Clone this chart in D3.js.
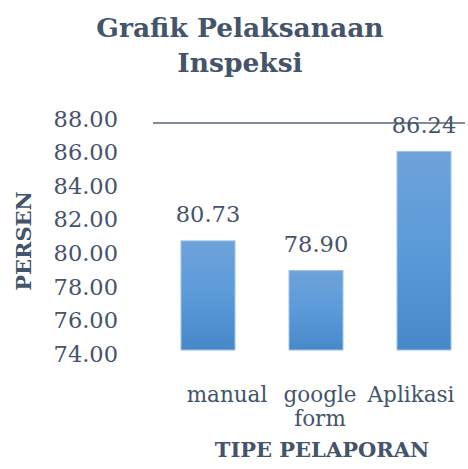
<!DOCTYPE html>
<html>
<head>
<meta charset="utf-8">
<script src="https://cdn.jsdelivr.net/npm/d3@7"></script>
<style>
  body { margin: 0; background: #fff; }
  text { font-family: "DejaVu Serif", serif; fill: #44546a; }
</style>
</head>
<body>
<div id="chart"></div>
<script>
// data
const categories = ["manual", "google form", "Aplikasi"];
const values = [80.73, 78.90, 86.24];
const yTicks = [74, 76, 78, 80, 82, 84, 86, 88];
const titleLines = ["Grafik Pelaksanaan", "Inspeksi"];
const yTitle = "PERSEN";
const xTitle = "TIPE PELAPORAN";

const width = 468, height = 469;
const svg = d3.select("#chart").append("svg")
  .attr("width", width).attr("height", height);

const defs = svg.append("defs");
const grad = defs.append("linearGradient")
  .attr("id", "barGrad").attr("x1", 0).attr("y1", 0).attr("x2", 0).attr("y2", 1);
grad.append("stop").attr("offset", "0%").attr("stop-color", "#6ea3da");
grad.append("stop").attr("offset", "50%").attr("stop-color", "#5b9ad9");
grad.append("stop").attr("offset", "100%").attr("stop-color", "#4788c9");

const yScale = d3.scaleLinear().domain([74, 88]).range([350, 123]);
// tick labels sit a touch wider than the plot, like the original
const yLabelScale = d3.scaleLinear().domain([74, 88]).range([354, 119]);

const xScale = d3.scaleBand()
  .domain(categories)
  .range([154, 478])
  .paddingInner(0.5)
  .paddingOuter(0.25);

// title
svg.append("g")
  .selectAll("text")
  .data(titleLines)
  .join("text")
  .attr("x", 240)
  .attr("y", (d, i) => 37 + i * 35)
  .attr("text-anchor", "middle")
  .style("font-weight", "bold")
  .style("font-size", "26.5px")
  .text(d => d);

// top gridline (88)
svg.append("line")
  .attr("x1", 153).attr("x2", 465)
  .attr("y1", yScale(88)).attr("y2", yScale(88))
  .attr("stroke", "#596477").attr("stroke-width", 1.5);

// y axis labels
const yAxis = d3.axisLeft(yLabelScale)
  .tickValues(yTicks)
  .tickFormat(d3.format(".2f"))
  .tickSize(0).tickPadding(0);

svg.append("g")
  .attr("transform", "translate(118,0)")
  .call(yAxis)
  .call(g => g.select(".domain").remove())
  .selectAll("text")
  .style("font-family", "DejaVu Serif, serif")
  .style("font-size", "22.5px")
  .attr("fill", "#44546a");

// bars
svg.append("g")
  .selectAll("rect")
  .data(values)
  .join("rect")
  .attr("x", (d, i) => xScale(categories[i]))
  .attr("y", d => yScale(d))
  .attr("width", xScale.bandwidth())
  .attr("height", d => yScale(74) - yScale(d))
  .attr("fill", "url(#barGrad)")
  .attr("stroke", "#9cc2ea")
  .attr("stroke-width", 1);

// value labels
svg.append("g")
  .selectAll("text")
  .data(values)
  .join("text")
  .attr("x", (d, i) => xScale(categories[i]) + xScale.bandwidth() / 2)
  .attr("y", d => yScale(d) - 19)
  .attr("text-anchor", "middle")
  .style("font-size", "22.5px")
  .text(d => d3.format(".2f")(d));

// category labels (nudged the way the original squeezes them)
const labelNudge = [19, 4, -13];
const catG = svg.append("g");
categories.forEach((c, i) => {
  const t = catG.append("text")
    .attr("x", xScale(c) + xScale.bandwidth() / 2 + labelNudge[i])
    .attr("y", 402)
    .attr("text-anchor", "middle")
    .style("font-size", "21.5px");
  c.split(" ").forEach((w, j) => {
    t.append("tspan")
      .attr("x", xScale(c) + xScale.bandwidth() / 2 + labelNudge[i])
      .attr("dy", j === 0 ? 0 : 24)
      .text(w);
  });
});

// axis titles
svg.append("text")
  .attr("transform", "translate(31,241) rotate(-90)")
  .attr("text-anchor", "middle")
  .style("font-weight", "bold")
  .style("font-size", "21px")
  .text(yTitle);

svg.append("text")
  .attr("x", 322)
  .attr("y", 457)
  .attr("text-anchor", "middle")
  .style("font-weight", "bold")
  .style("font-size", "21px")
  .text(xTitle);
</script>
</body>
</html>
